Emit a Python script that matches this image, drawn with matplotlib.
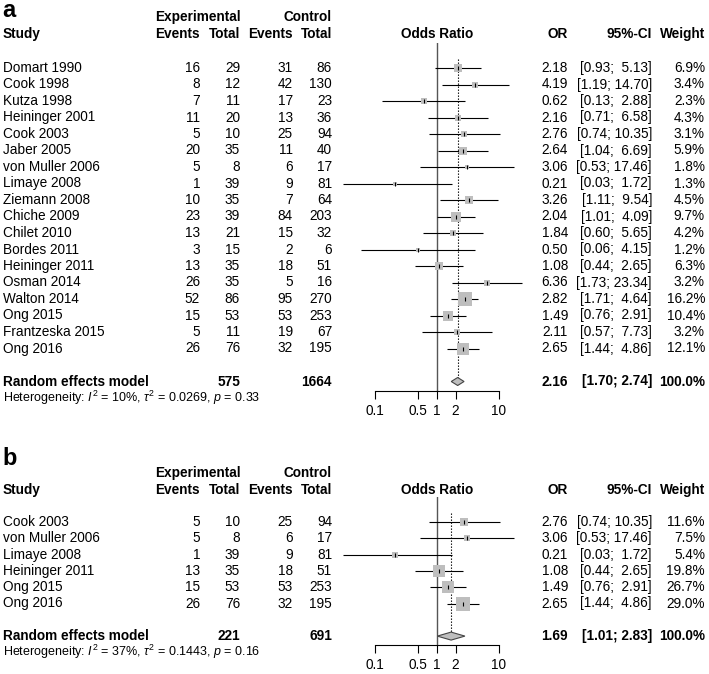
import numpy as np
import matplotlib
matplotlib.use('Agg')
import matplotlib.pyplot as plt
from matplotlib.patches import Polygon

plt.rcParams['font.family'] = ['Liberation Sans', 'DejaVu Sans']
plt.rcParams['mathtext.fontset'] = 'custom'
plt.rcParams['mathtext.rm'] = 'Liberation Sans'
plt.rcParams['mathtext.it'] = 'Liberation Sans:italic'
plt.rcParams['mathtext.bf'] = 'Liberation Sans:bold'

# ---------------- Panel a data ----------------
a_studies = ["Domart 1990", "Cook 1998", "Kutza 1998", "Heininger 2001", "Cook 2003",
             "Jaber 2005", "von Muller 2006", "Limaye 2008", "Ziemann 2008", "Chiche 2009",
             "Chilet 2010", "Bordes 2011", "Heininger 2011", "Osman 2014", "Walton 2014",
             "Ong 2015", "Frantzeska 2015", "Ong 2016"]
a_e_events = [16, 8, 7, 11, 5, 20, 5, 1, 10, 23, 13, 3, 13, 26, 52, 15, 5, 26]
a_e_total = [29, 12, 11, 20, 10, 35, 8, 39, 35, 39, 21, 15, 35, 35, 86, 53, 11, 76]
a_c_events = [31, 42, 17, 13, 25, 11, 6, 9, 7, 84, 15, 2, 18, 5, 95, 53, 19, 32]
a_c_total = [86, 130, 23, 36, 94, 40, 17, 81, 64, 203, 32, 6, 51, 16, 270, 253, 67, 195]
a_or = [2.18, 4.19, 0.62, 2.16, 2.76, 2.64, 3.06, 0.21, 3.26, 2.04, 1.84, 0.50, 1.08, 6.36, 2.82, 1.49, 2.11, 2.65]
a_lo = [0.93, 1.19, 0.13, 0.71, 0.74, 1.04, 0.53, 0.03, 1.11, 1.01, 0.60, 0.06, 0.44, 1.73, 1.71, 0.76, 0.57, 1.44]
a_hi = [5.13, 14.70, 2.88, 6.58, 10.35, 6.69, 17.46, 1.72, 9.54, 4.09, 5.65, 4.15, 2.65, 23.34, 4.64, 2.91, 7.73, 4.86]
a_weight = [6.9, 3.4, 2.3, 4.3, 3.1, 5.9, 1.8, 1.3, 4.5, 9.7, 4.2, 1.2, 6.3, 3.2, 16.2, 10.4, 3.2, 12.1]
a_pooled = [2.16, 1.70, 2.74]
a_tot_e, a_tot_c = 575, 1664
a_het = ["10%", "0.0269", "0.33"]

# ---------------- Panel b data ----------------
b_studies = ["Cook 2003", "von Muller 2006", "Limaye 2008", "Heininger 2011", "Ong 2015", "Ong 2016"]
b_e_events = [5, 5, 1, 13, 15, 26]
b_e_total = [10, 8, 39, 35, 53, 76]
b_c_events = [25, 6, 9, 18, 53, 32]
b_c_total = [94, 17, 81, 51, 253, 195]
b_or = [2.76, 3.06, 0.21, 1.08, 1.49, 2.65]
b_lo = [0.74, 0.53, 0.03, 0.44, 0.76, 1.44]
b_hi = [10.35, 17.46, 1.72, 2.65, 2.91, 4.86]
b_weight = [11.6, 7.5, 5.4, 19.8, 26.7, 29.0]
b_pooled = [1.69, 1.01, 2.83]
b_tot_e, b_tot_c = 221, 691
b_het = ["37%", "0.1443", "0.16"]

tick_vals = [0.1, 0.5, 1, 2, 10]
tick_labels = ["0.1", "0.5", "1", "2", "10"]

W, H = 709, 674
fig = plt.figure(figsize=(W / 100, H / 100), dpi=100)
ax_t = fig.add_axes([0, 0, 1, 1])
ax_t.set_xlim(0, W)
ax_t.set_ylim(H, 0)
ax_t.axis('off')

X1 = 437.0     # pixel of OR = 1
PPD = 61.8     # pixels per decade
XMIN, XMAX = 0.02, 30
FS = 9.8
BOX = '#BEBEBE'


def px(v):
    return X1 + PPD * np.log10(v)


def txt(x, y, s, ha='right', bold=False, fs=FS):
    ax_t.text(x, y, s, ha=ha, va='center', fontsize=fs,
              fontweight='bold' if bold else 'normal')


def ci_str(lo, hi, width):
    return "[%.2f; %s]" % (lo, ("%.2f" % hi).rjust(width))


def panel(lab, lab_y, h1_y, h2_y, y0, dy, axis_y, studies, ee, et, ce, ct,
          orv, lo, hi, w, pooled, tot_e, tot_c, het):
    n = len(studies)
    ax_t.text(2, lab_y, lab, fontsize=17, fontweight='bold', va='baseline', ha='left')
    txt(241, h1_y, 'Experimental', bold=True)
    txt(332, h1_y, 'Control', bold=True)
    for x, s, ha in [(3, 'Study', 'left'), (200, 'Events', 'right'), (240, 'Total', 'right'),
                     (293, 'Events', 'right'), (332, 'Total', 'right'),
                     (X1, 'Odds Ratio', 'center'), (568, 'OR', 'right'),
                     (652, '95%-CI', 'right'), (705, 'Weight', 'right')]:
        txt(x, h2_y, s, ha=ha, bold=True)
    width = max(len("%.2f" % v) for v in hi)
    for i in range(n):
        y = y0 + dy * i
        txt(3, y, studies[i], ha='left')
        txt(200, y, str(ee[i]))
        txt(240, y, str(et[i]))
        txt(293, y, str(ce[i]))
        txt(332, y, str(ct[i]))
        txt(568, y, "%.2f" % orv[i])
        txt(652, y, ci_str(lo[i], hi[i], width))
        txt(705, y, "%.1f%%" % w[i])
    sy = y0 + dy * (n + 1)
    txt(3, sy, 'Random effects model', ha='left', bold=True)
    txt(240, sy, str(tot_e), bold=True)
    txt(332, sy, str(tot_c), bold=True)
    txt(568, sy, "%.2f" % pooled[0], bold=True)
    txt(652, sy, "[%.2f; %.2f]" % (pooled[1], pooled[2]), bold=True)
    txt(705, sy, "100.0%", bold=True)
    ax_t.text(3, sy + 16,
              r"Heterogeneity: $I^2$ = %s, $\tau^2$ = %s, $p$ = %s" % tuple(het),
              ha='left', va='center', fontsize=9)

    # forest axes
    top_px = y0 - 25
    left = px(XMIN)
    right = px(XMAX)
    fa = fig.add_axes([left / W, 1 - axis_y / H, (right - left) / W, (axis_y - top_px) / H])
    fa.patch.set_alpha(0)
    fa.set_xscale('log')
    fa.set_xlim(XMIN, XMAX)
    fa.set_ylim((axis_y - y0) / dy, (top_px - y0) / dy)
    ri = np.arange(n)
    w_arr = np.asarray(w, dtype=float)
    sides = 13.5 * np.sqrt(w_arr / w_arr.max()) * 0.72
    fa.hlines(ri, lo, hi, color='black', lw=0.8, zorder=2)
    for i in range(n):
        fa.plot(orv[i], i, marker='s', ms=sides[i], color=BOX, mew=0, ls='none', zorder=3)
    fa.plot(orv, ri, marker='|', ls='none', ms=3.5, mew=0.8, color='black', zorder=4)
    fa.axvline(1, color='#555555', lw=1.0, zorder=1)
    dh = 4.0 / dy
    fa.vlines(pooled[0], -0.55, n + 1 - dh, color='black', lw=0.8, linestyles=(0, (1.2, 1.5)), zorder=1)
    dia = Polygon([(pooled[1], n + 1), (pooled[0], n + 1 - dh), (pooled[2], n + 1),
                   (pooled[0], n + 1 + dh)], closed=True, facecolor=BOX,
                  edgecolor='#444444', lw=0.8, zorder=3)
    fa.add_patch(dia)
    for s in ['left', 'right', 'top']:
        fa.spines[s].set_visible(False)
    fa.spines['bottom'].set_bounds(0.1, 10)
    fa.spines['bottom'].set_linewidth(0.8)
    fa.set_xticks(tick_vals)
    fa.set_xticklabels(tick_labels)
    fa.xaxis.set_minor_locator(matplotlib.ticker.NullLocator())
    fa.tick_params(axis='x', direction='out', length=5.5, width=0.8, pad=4, labelsize=FS)
    fa.set_yticks([])


panel('a', 17, 17, 34, 68, 16.5, 391, a_studies, a_e_events, a_e_total, a_c_events,
      a_c_total, a_or, a_lo, a_hi, a_weight, a_pooled, a_tot_e, a_tot_c, a_het)
panel('b', 465, 473, 490, 522, 16.3, 645, b_studies, b_e_events, b_e_total, b_c_events,
      b_c_total, b_or, b_lo, b_hi, b_weight, b_pooled, b_tot_e, b_tot_c, b_het)

fig.savefig('out.png', dpi=100)
